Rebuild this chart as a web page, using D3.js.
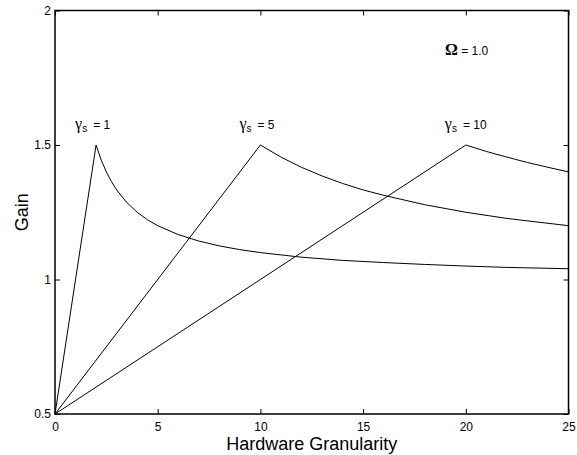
<!DOCTYPE html>
<html>
<head>
<meta charset="utf-8">
<script src="https://cdn.jsdelivr.net/npm/d3@7"></script>
<style>
    body { margin: 0; background: #fff; }
    svg text { font-family: "Liberation Sans", Arial, sans-serif; fill: #000; }
    .sym { font-family: "Liberation Serif", "Times New Roman", serif; }
</style>
</head>
<body>
<svg id="chart" width="577" height="455"></svg>
<script>
// values
const xTicks = [0, 5, 10, 15, 20, 25];
const yTicks = [0.5, 1, 1.5, 2];

const g1X = [0, 2, 2.25, 2.5, 2.75, 3, 3.5, 4, 4.5, 5, 6, 7, 8, 9, 10, 12, 14, 16, 18, 20, 22, 25];
const g1Y = [0.5, 1.5, 1.444, 1.4, 1.364, 1.333, 1.286, 1.25, 1.222, 1.2, 1.167, 1.143, 1.125, 1.111, 1.1, 1.083, 1.071, 1.063, 1.056, 1.05, 1.045, 1.04];

const g5X = [0, 10, 11, 12, 13, 14, 15, 16, 18, 20, 22, 25];
const g5Y = [0.5, 1.5, 1.455, 1.417, 1.385, 1.357, 1.333, 1.313, 1.278, 1.25, 1.227, 1.2];

const g10X = [0, 20, 21, 22, 23, 24, 25];
const g10Y = [0.5, 1.5, 1.476, 1.455, 1.435, 1.417, 1.4];

const seriesLabels = [
    { name: '1',  x: 2,  y: 1.5 },
    { name: '5',  x: 10, y: 1.5 },
    { name: '10', x: 20, y: 1.5 }
];

const margin = { left: 55, top: 10.5, right: 8.5, bottom: 41 };
const width = 577, height = 455;

const x = d3.scaleLinear().domain([0, 25]).range([margin.left, width - margin.right]);
const y = d3.scaleLinear().domain([0.5, 2]).range([height - margin.bottom, margin.top]);

const svg = d3.select('#chart');

// frame
svg.append('rect')
    .attr('x', x(0)).attr('y', y(2))
    .attr('width', x(25) - x(0)).attr('height', y(0.5) - y(2))
    .attr('fill', 'none').attr('stroke', '#000').attr('stroke-width', 1.5);

// inward ticks on all sides
const tickLen = 5;
svg.append('g')
    .attr('transform', 'translate(0,' + y(0.5) + ')')
    .call(d3.axisBottom(x).tickValues(xTicks).tickSize(-tickLen).tickPadding(8).tickFormat(d3.format('d')))
    .call(g => g.select('.domain').remove())
    .call(g => g.selectAll('text').attr('font-size', 12));

svg.append('g')
    .attr('transform', 'translate(0,' + y(2) + ')')
    .call(d3.axisTop(x).tickValues(xTicks).tickSize(-tickLen).tickFormat(''))
    .call(g => g.select('.domain').remove());

svg.append('g')
    .attr('transform', 'translate(' + x(0) + ',0)')
    .call(d3.axisLeft(y).tickValues(yTicks).tickSize(-tickLen).tickPadding(4).tickFormat(d => String(d)))
    .call(g => g.select('.domain').remove())
    .call(g => g.selectAll('text').attr('font-size', 12));

svg.append('g')
    .attr('transform', 'translate(' + x(25) + ',0)')
    .call(d3.axisRight(y).tickValues(yTicks).tickSize(-tickLen).tickFormat(''))
    .call(g => g.select('.domain').remove());

// curves
const line = d3.line().x(d => x(d[0])).y(d => y(d[1]));
[[g1X, g1Y], [g5X, g5Y], [g10X, g10Y]].forEach(([xs, ys]) => {
    svg.append('path')
        .datum(d3.zip(xs, ys))
        .attr('d', line)
        .attr('fill', 'none')
        .attr('stroke', '#000')
        .attr('stroke-width', 1);
});

// series labels
seriesLabels.forEach(s => {
    const t = svg.append('text')
        .attr('x', x(s.x) - 21)
        .attr('y', y(s.y) - 16)
        .attr('font-size', 12);
    t.append('tspan').attr('class', 'sym').attr('font-size', 16).text('\u03b3');
    t.append('tspan').attr('font-size', 10).attr('dy', 3).text('s');
    t.append('tspan').attr('dy', -3).attr('dx', 6).text('= ' + s.name);
});

// Omega note
const om = svg.append('text')
    .attr('x', 445)
    .attr('y', 55)
    .attr('font-size', 12);
om.append('tspan').attr('class', 'sym').attr('font-size', 16).attr('font-weight', 'bold').text('\u03a9');
om.append('tspan').text(' = 1.0');

// axis titles
svg.append('text')
    .attr('x', (x(0) + x(25)) / 2)
    .attr('y', 450)
    .attr('text-anchor', 'middle')
    .attr('font-size', 18)
    .text('Hardware Granularity');

svg.append('text')
    .attr('transform', 'translate(28,' + ((y(0.5) + y(2)) / 2) + ') rotate(-90)')
    .attr('text-anchor', 'middle')
    .attr('font-size', 18)
    .text('Gain');
</script>
</body>
</html>
